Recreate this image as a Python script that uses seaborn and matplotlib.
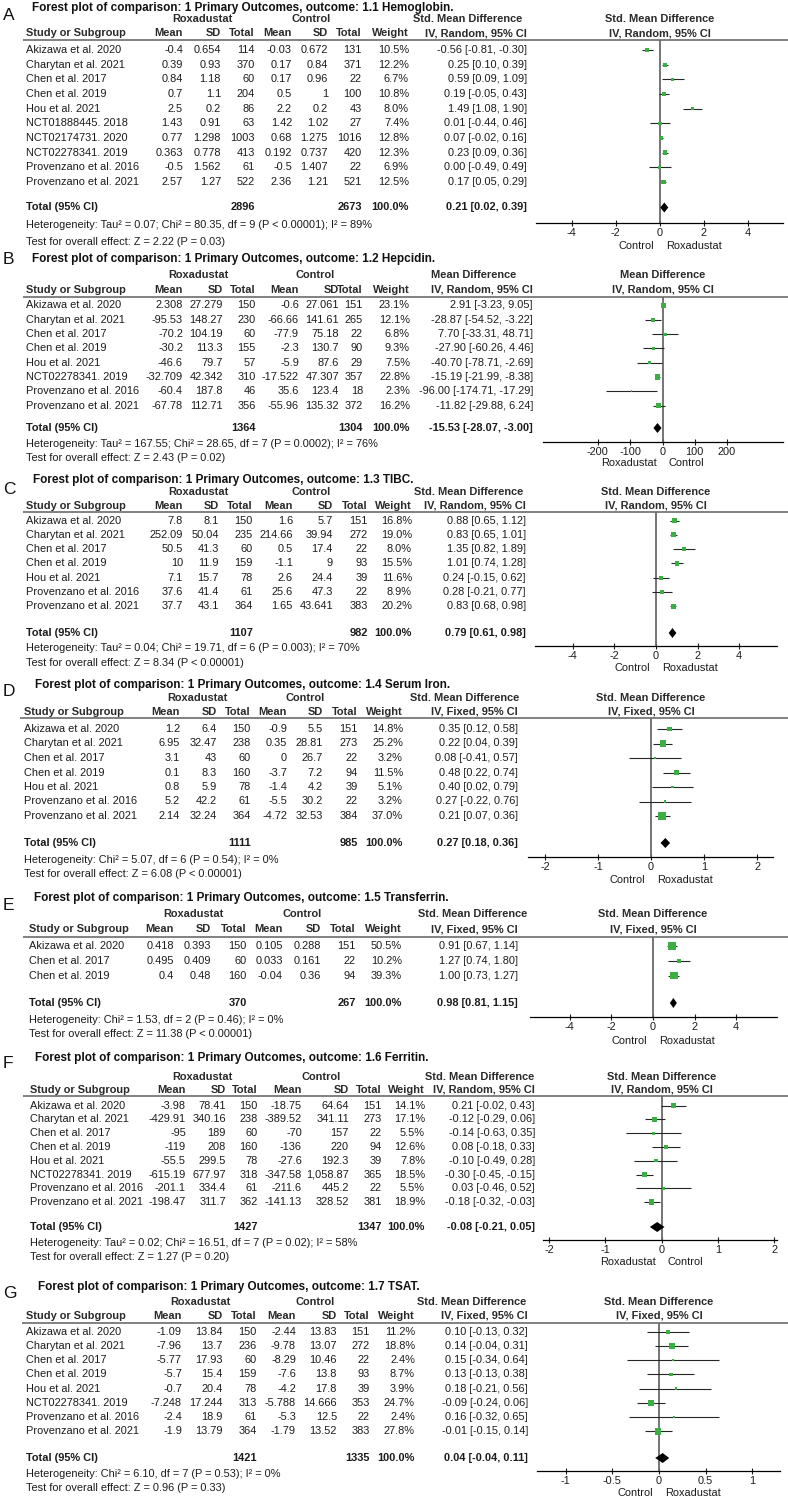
import numpy as np
import matplotlib
matplotlib.use('Agg')
import matplotlib.pyplot as plt
import seaborn as sns

# ---------------- DATA ----------------
# Panel A: Hemoglobin
A_study = ["Akizawa et al. 2020", "Charytan et al. 2021", "Chen et al. 2017", "Chen et al. 2019",
           "Hou et al. 2021", "NCT01888445. 2018", "NCT02174731. 2020", "NCT02278341. 2019",
           "Provenzano et al. 2016", "Provenzano et al. 2021"]
A_rmean = [-0.4, 0.39, 0.84, 0.7, 2.5, 1.43, 0.77, 0.363, -0.5, 2.57]
A_rsd = [0.654, 0.93, 1.18, 1.1, 0.2, 0.91, 1.298, 0.778, 1.562, 1.27]
A_rn = [114, 370, 60, 204, 86, 63, 1003, 413, 61, 522]
A_cmean = [-0.03, 0.17, 0.17, 0.5, 2.2, 1.42, 0.68, 0.192, -0.5, 2.36]
A_csd = [0.672, 0.84, 0.96, 1, 0.2, 1.02, 1.275, 0.737, 1.407, 1.21]
A_cn = [131, 371, 22, 100, 43, 27, 1016, 420, 22, 521]
A_w = [10.5, 12.2, 6.7, 10.8, 8.0, 7.4, 12.8, 12.3, 6.9, 12.5]
A_est = [-0.56, 0.25, 0.59, 0.19, 1.49, 0.01, 0.07, 0.23, 0.00, 0.17]
A_lo = [-0.81, 0.10, 0.09, -0.05, 1.08, -0.44, -0.02, 0.09, -0.49, 0.05]
A_hi = [-0.30, 0.39, 1.09, 0.43, 1.90, 0.46, 0.16, 0.36, 0.49, 0.29]
A_tot = [2896, 2673]
A_pool = [0.21, 0.02, 0.39]
A_het = "Heterogeneity: Tau² = 0.07; Chi² = 80.35, df = 9 (P < 0.00001); I² = 89%"
A_test = "Test for overall effect: Z = 2.22 (P = 0.03)"
A_ticks = [-4, -2, 0, 2, 4]
A_ticklabels = ["-4", "-2", "0", "2", "4"]
A_favours = ["Control", "Roxadustat"]

# Panel B: Hepcidin
B_study = ["Akizawa et al. 2020", "Charytan et al. 2021", "Chen et al. 2017", "Chen et al. 2019",
           "Hou et al. 2021", "NCT02278341. 2019", "Provenzano et al. 2016", "Provenzano et al. 2021"]
B_rmean = [2.308, -95.53, -70.2, -30.2, -46.6, -32.709, -60.4, -67.78]
B_rsd = [27.279, 148.27, 104.19, 113.3, 79.7, 42.342, 187.8, 112.71]
B_rn = [150, 230, 60, 155, 57, 310, 46, 356]
B_cmean = [-0.6, -66.66, -77.9, -2.3, -5.9, -17.522, 35.6, -55.96]
B_csd = [27.061, 141.61, 75.18, 130.7, 87.6, 47.307, 123.4, 135.32]
B_cn = [151, 265, 22, 90, 29, 357, 18, 372]
B_w = [23.1, 12.1, 6.8, 9.3, 7.5, 22.8, 2.3, 16.2]
B_est = [2.91, -28.87, 7.70, -27.90, -40.70, -15.19, -96.00, -11.82]
B_lo = [-3.23, -54.52, -33.31, -60.26, -78.71, -21.99, -174.71, -29.88]
B_hi = [9.05, -3.22, 48.71, 4.46, -2.69, -8.38, -17.29, 6.24]
B_tot = [1364, 1304]
B_pool = [-15.53, -28.07, -3.00]
B_het = "Heterogeneity: Tau² = 167.55; Chi² = 28.65, df = 7 (P = 0.0002); I² = 76%"
B_test = "Test for overall effect: Z = 2.43 (P = 0.02)"
B_ticks = [-200, -100, 0, 100, 200]
B_ticklabels = ["-200", "-100", "0", "100", "200"]
B_favours = ["Roxadustat", "Control"]

# Panel C: TIBC
C_study = ["Akizawa et al. 2020", "Charytan et al. 2021", "Chen et al. 2017", "Chen et al. 2019",
           "Hou et al. 2021", "Provenzano et al. 2016", "Provenzano et al. 2021"]
C_rmean = [7.8, 252.09, 50.5, 10, 7.1, 37.6, 37.7]
C_rsd = [8.1, 50.04, 41.3, 11.9, 15.7, 41.4, 43.1]
C_rn = [150, 235, 60, 159, 78, 61, 364]
C_cmean = [1.6, 214.66, 0.5, -1.1, 2.6, 25.6, 1.65]
C_csd = [5.7, 39.94, 17.4, 9, 24.4, 47.3, 43.641]
C_cn = [151, 272, 22, 93, 39, 22, 383]
C_w = [16.8, 19.0, 8.0, 15.5, 11.6, 8.9, 20.2]
C_est = [0.88, 0.83, 1.35, 1.01, 0.24, 0.28, 0.83]
C_lo = [0.65, 0.65, 0.82, 0.74, -0.15, -0.21, 0.68]
C_hi = [1.12, 1.01, 1.89, 1.28, 0.62, 0.77, 0.98]
C_tot = [1107, 982]
C_pool = [0.79, 0.61, 0.98]
C_het = "Heterogeneity: Tau² = 0.04; Chi² = 19.71, df = 6 (P = 0.003); I² = 70%"
C_test = "Test for overall effect: Z = 8.34 (P < 0.00001)"
C_ticks = [-4, -2, 0, 2, 4]
C_ticklabels = ["-4", "-2", "0", "2", "4"]
C_favours = ["Control", "Roxadustat"]

# Panel D: Serum Iron
D_study = ["Akizawa et al. 2020", "Charytan et al. 2021", "Chen et al. 2017", "Chen et al. 2019",
           "Hou et al. 2021", "Provenzano et al. 2016", "Provenzano et al. 2021"]
D_rmean = [1.2, 6.95, 3.1, 0.1, 0.8, 5.2, 2.14]
D_rsd = [6.4, 32.47, 43, 8.3, 5.9, 42.2, 32.24]
D_rn = [150, 238, 60, 160, 78, 61, 364]
D_cmean = [-0.9, 0.35, 0, -3.7, -1.4, -5.5, -4.72]
D_csd = [5.5, 28.81, 26.7, 7.2, 4.2, 30.2, 32.53]
D_cn = [151, 273, 22, 94, 39, 22, 384]
D_w = [14.8, 25.2, 3.2, 11.5, 5.1, 3.2, 37.0]
D_est = [0.35, 0.22, 0.08, 0.48, 0.40, 0.27, 0.21]
D_lo = [0.12, 0.04, -0.41, 0.22, 0.02, -0.22, 0.07]
D_hi = [0.58, 0.39, 0.57, 0.74, 0.79, 0.76, 0.36]
D_tot = [1111, 985]
D_pool = [0.27, 0.18, 0.36]
D_het = "Heterogeneity: Chi² = 5.07, df = 6 (P = 0.54); I² = 0%"
D_test = "Test for overall effect: Z = 6.08 (P < 0.00001)"
D_ticks = [-2, -1, 0, 1, 2]
D_ticklabels = ["-2", "-1", "0", "1", "2"]
D_favours = ["Control", "Roxadustat"]

# Panel E: Transferrin
E_study = ["Akizawa et al. 2020", "Chen et al. 2017", "Chen et al. 2019"]
E_rmean = [0.418, 0.495, 0.4]
E_rsd = [0.393, 0.409, 0.48]
E_rn = [150, 60, 160]
E_cmean = [0.105, 0.033, -0.04]
E_csd = [0.288, 0.161, 0.36]
E_cn = [151, 22, 94]
E_w = [50.5, 10.2, 39.3]
E_est = [0.91, 1.27, 1.00]
E_lo = [0.67, 0.74, 0.73]
E_hi = [1.14, 1.80, 1.27]
E_tot = [370, 267]
E_pool = [0.98, 0.81, 1.15]
E_het = "Heterogeneity: Chi² = 1.53, df = 2 (P = 0.46); I² = 0%"
E_test = "Test for overall effect: Z = 11.38 (P < 0.00001)"
E_ticks = [-4, -2, 0, 2, 4]
E_ticklabels = ["-4", "-2", "0", "2", "4"]
E_favours = ["Control", "Roxadustat"]

# Panel F: Ferritin
F_study = ["Akizawa et al. 2020", "Charytan et al. 2021", "Chen et al. 2017", "Chen et al. 2019",
           "Hou et al. 2021", "NCT02278341. 2019", "Provenzano et al. 2016", "Provenzano et al. 2021"]
F_rmean = [-3.98, -429.91, -95, -119, -55.5, -615.19, -201.1, -198.47]
F_rsd = [78.41, 340.16, 189, 208, 299.5, 677.97, 334.4, 311.7]
F_rn = [150, 238, 60, 160, 78, 318, 61, 362]
F_cmean = [-18.75, -389.52, -70, -136, -27.6, -347.58, -211.6, -141.13]
F_csd = [64.64, 341.11, 157, 220, 192.3, 1058.87, 445.2, 328.52]
F_cn = [151, 273, 22, 94, 39, 365, 22, 381]
F_w = [14.1, 17.1, 5.5, 12.6, 7.8, 18.5, 5.5, 18.9]
F_est = [0.21, -0.12, -0.14, 0.08, -0.10, -0.30, 0.03, -0.18]
F_lo = [-0.02, -0.29, -0.63, -0.18, -0.49, -0.45, -0.46, -0.32]
F_hi = [0.43, 0.06, 0.35, 0.33, 0.28, -0.15, 0.52, -0.03]
F_tot = [1427, 1347]
F_pool = [-0.08, -0.21, 0.05]
F_het = "Heterogeneity: Tau² = 0.02; Chi² = 16.51, df = 7 (P = 0.02); I² = 58%"
F_test = "Test for overall effect: Z = 1.27 (P = 0.20)"
F_ticks = [-2, -1, 0, 1, 2]
F_ticklabels = ["-2", "-1", "0", "1", "2"]
F_favours = ["Roxadustat", "Control"]

# Panel G: TSAT
G_study = ["Akizawa et al. 2020", "Charytan et al. 2021", "Chen et al. 2017", "Chen et al. 2019",
           "Hou et al. 2021", "NCT02278341. 2019", "Provenzano et al. 2016", "Provenzano et al. 2021"]
G_rmean = [-1.09, -7.96, -5.77, -5.7, -0.7, -7.248, -2.4, -1.9]
G_rsd = [13.84, 13.7, 17.93, 15.4, 20.4, 17.244, 18.9, 13.79]
G_rn = [150, 236, 60, 159, 78, 313, 61, 364]
G_cmean = [-2.44, -9.78, -8.29, -7.6, -4.2, -5.788, -5.3, -1.79]
G_csd = [13.83, 13.07, 10.46, 13.8, 17.8, 14.666, 12.5, 13.52]
G_cn = [151, 272, 22, 93, 39, 353, 22, 383]
G_w = [11.2, 18.8, 2.4, 8.7, 3.9, 24.7, 2.4, 27.8]
G_est = [0.10, 0.14, 0.15, 0.13, 0.18, -0.09, 0.16, -0.01]
G_lo = [-0.13, -0.04, -0.34, -0.13, -0.21, -0.24, -0.32, -0.15]
G_hi = [0.32, 0.31, 0.64, 0.38, 0.56, 0.06, 0.65, 0.14]
G_tot = [1421, 1335]
G_pool = [0.04, -0.04, 0.11]
G_het = "Heterogeneity: Chi² = 6.10, df = 7 (P = 0.53); I² = 0%"
G_test = "Test for overall effect: Z = 0.96 (P = 0.33)"
G_ticks = [-1, -0.5, 0, 0.5, 1]
G_ticklabels = ["-1", "-0.5", "0", "0.5", "1"]
G_favours = ["Control", "Roxadustat"]

outcomes = ["1.1 Hemoglobin.", "1.2 Hepcidin.", "1.3 TIBC.", "1.4 Serum Iron.",
            "1.5 Transferrin.", "1.6 Ferritin.", "1.7 TSAT."]
effects = ["Std. Mean Difference", "Mean Difference", "Std. Mean Difference", "Std. Mean Difference",
           "Std. Mean Difference", "Std. Mean Difference", "Std. Mean Difference"]
methods = ["IV, Random, 95% CI", "IV, Random, 95% CI", "IV, Random, 95% CI", "IV, Fixed, 95% CI",
           "IV, Fixed, 95% CI", "IV, Random, 95% CI", "IV, Fixed, 95% CI"]

# ---------------- LAYOUT (pixels) ----------------
layouts = {
    'A': dict(letter_y=15, title_x=32, title_y=8, group_y=19, col_y=33, line_y=40, line_x0=23,
              row0=50, dy=14.65, total_y=207.5, het_y=225, test_y=242, axis_y=223,
              ticklab_y=233, dirlab_y=246, cols=[26, 183, 221, 255, 292, 328, 362, 409, 527],
              rox_c=202, ctl_c=311, eff_c=468, axis_px=(536, 783), xlim=(-5.62, 5.6)),
    'B': dict(letter_y=260, title_x=32, title_y=259, group_y=275, col_y=290, line_y=297, line_x0=23,
              row0=305.5, dy=14.3, total_y=428, het_y=444, test_y=458, axis_y=442,
              ticklab_y=452, dirlab_y=463, cols=[26, 183, 223, 256, 299, 339, 363, 410, 533],
              rox_c=198, ctl_c=315, eff_c=474, axis_px=(543, 783), xlim=(-370, 373)),
    'C': dict(letter_y=490, title_x=33, title_y=480, group_y=492, col_y=506, line_y=512, line_x0=23,
              row0=520.5, dy=14.3, total_y=633, het_y=648, test_y=663, axis_y=646,
              ticklab_y=656, dirlab_y=668, cols=[26, 183, 219, 253, 293, 333, 368, 412, 526],
              rox_c=198, ctl_c=311, eff_c=469, axis_px=(535, 777), xlim=(-5.82, 5.82)),
    'D': dict(letter_y=692, title_x=35, title_y=685, group_y=698, col_y=712, line_y=718, line_x0=20,
              row0=729, dy=14.5, total_y=843, het_y=860, test_y=874, axis_y=857,
              ticklab_y=867, dirlab_y=880, cols=[24, 180, 217, 251, 287, 323, 358, 403, 518],
              rox_c=197, ctl_c=305, eff_c=465, axis_px=(528, 773), xlim=(-2.32, 2.30)),
    'E': dict(letter_y=905, title_x=34, title_y=898, group_y=914, col_y=929, line_y=937, line_x0=23,
              row0=946, dy=14.8, total_y=1003, het_y=1020, test_y=1034, axis_y=1017,
              ticklab_y=1028, dirlab_y=1041, cols=[29, 174, 211, 247, 283, 321, 356, 402, 518],
              rox_c=193, ctl_c=302, eff_c=473, axis_px=(530, 777), xlim=(-5.91, 5.96)),
    'F': dict(letter_y=1063, title_x=35, title_y=1058, group_y=1077, col_y=1090, line_y=1096, line_x0=23,
              row0=1105.7, dy=13.76, total_y=1227, het_y=1243, test_y=1257, axis_y=1240,
              ticklab_y=1250, dirlab_y=1262, cols=[30, 186, 226, 258, 302, 349, 382, 425, 535],
              rox_c=202, ctl_c=321, eff_c=480, axis_px=(543, 777), xlim=(-2.11, 2.05)),
    'G': dict(letter_y=1293, title_x=38, title_y=1287, group_y=1302, col_y=1316, line_y=1323, line_x0=22,
              row0=1331.7, dy=14.24, total_y=1458, het_y=1474, test_y=1488, axis_y=1471,
              ticklab_y=1482, dirlab_y=1493, cols=[26, 182, 223, 257, 296, 337, 370, 415, 528],
              rox_c=200, ctl_c=315, eff_c=472, axis_px=(537, 780), xlim=(-1.31, 1.30)),
}

panels = []
for i, k in enumerate("ABCDEFG"):
    g = globals()
    panels.append(dict(key=k, study=g[k + '_study'], rmean=g[k + '_rmean'], rsd=g[k + '_rsd'],
                       rn=g[k + '_rn'], cmean=g[k + '_cmean'], csd=g[k + '_csd'], cn=g[k + '_cn'],
                       w=g[k + '_w'], est=g[k + '_est'], lo=g[k + '_lo'], hi=g[k + '_hi'],
                       tot=g[k + '_tot'], pool=g[k + '_pool'], het=g[k + '_het'], test=g[k + '_test'],
                       ticks=g[k + '_ticks'], ticklabels=g[k + '_ticklabels'], fav=g[k + '_favours'],
                       outcome=outcomes[i], effect=effects[i], method=methods[i]))

# ---------------- DRAW ----------------
sns.set_style('white')
plt.rcParams['font.family'] = ['Liberation Sans', 'DejaVu Sans']

W, H = 788, 1500
fig = plt.figure(figsize=(W / 100, H / 100), dpi=100)
tx = fig.add_axes([0, 0, 1, 1])
tx.set_xlim(0, W)
tx.set_ylim(H, 0)
tx.axis('off')

BODY = 7.9
TXT = '#1c1c1c'
HDR = '#2a2a2a'
GREEN = '#3cae46'


def put(x, y, s, ha='left', bold=False, size=BODY, color=TXT):
    tx.text(x, y, s, ha=ha, va='center', fontsize=size,
            fontweight='bold' if bold else 'normal', color=color)


def fmt(v):
    return '{:,g}'.format(v)


for p in panels:
    L = layouts[p['key']]
    c = L['cols']
    x0px, x1px = L['axis_px']
    xl = L['xlim']
    zero_px = x0px + (0 - xl[0]) / (xl[1] - xl[0]) * (x1px - x0px)

    # labels and headers
    put(3, L['letter_y'], p['key'], size=12.5, color='#111')
    put(L['title_x'], L['title_y'],
        "Forest plot of comparison: 1 Primary Outcomes, outcome: " + p['outcome'],
        bold=True, size=8.5, color='#111')
    put(L['rox_c'], L['group_y'], "Roxadustat", ha='center', bold=True, color=HDR)
    put(L['ctl_c'], L['group_y'], "Control", ha='center', bold=True, color=HDR)
    put(L['eff_c'], L['group_y'], p['effect'], ha='center', bold=True, color=HDR)
    put(zero_px, L['group_y'], p['effect'], ha='center', bold=True, color=HDR)
    put(zero_px, L['col_y'], p['method'], ha='center', bold=True, color=HDR)
    put(c[0], L['col_y'], "Study or Subgroup", bold=True, color=HDR)
    for xx, lab in zip(c[1:8], ["Mean", "SD", "Total", "Mean", "SD", "Total", "Weight"]):
        put(xx, L['col_y'], lab, ha='right', bold=True, color=HDR)
    put(c[8], L['col_y'], p['method'], ha='right', bold=True, color=HDR)
    tx.plot([L['line_x0'], W], [L['line_y'], L['line_y']], color='#777777', lw=1.3,
            solid_capstyle='butt')

    # study rows
    ys = [L['row0'] + j * L['dy'] for j in range(len(p['study']))]
    for j, y in enumerate(ys):
        put(c[0], y, p['study'][j])
        put(c[1], y, fmt(p['rmean'][j]), ha='right')
        put(c[2], y, fmt(p['rsd'][j]), ha='right')
        put(c[3], y, str(p['rn'][j]), ha='right')
        put(c[4], y, fmt(p['cmean'][j]), ha='right')
        put(c[5], y, fmt(p['csd'][j]), ha='right')
        put(c[6], y, str(p['cn'][j]), ha='right')
        put(c[7], y, '%.1f%%' % p['w'][j], ha='right')
        put(c[8], y, '%.2f [%.2f, %.2f]' % (p['est'][j], p['lo'][j], p['hi'][j]), ha='right')

    # total rows
    ty = L['total_y']
    put(c[0], ty, "Total (95% CI)", bold=True)
    put(c[3], ty, str(p['tot'][0]), ha='right', bold=True)
    put(c[6], ty, str(p['tot'][1]), ha='right', bold=True)
    put(c[7], ty, "100.0%", ha='right', bold=True)
    put(c[8], ty, '%.2f [%.2f, %.2f]' % tuple(p['pool']), ha='right', bold=True)
    put(c[0], L['het_y'], p['het'])
    put(c[0], L['test_y'], p['test'])

    # forest axes
    ax = fig.add_axes([x0px / W, 1 - L['axis_y'] / H, (x1px - x0px) / W,
                       (L['axis_y'] - L['line_y']) / H])
    ax.patch.set_alpha(0)
    ax.set_xlim(*xl)
    ax.set_ylim(L['axis_y'], L['line_y'])
    ax.axvline(0, color='#6a6a6a', lw=1.3, zorder=1)
    ax.hlines(ys, p['lo'], p['hi'], color='#262626', lw=0.8, zorder=2)
    sns.scatterplot(x=p['est'], y=ys, size=p['w'], sizes=(0, 76), size_norm=(0, 100),
                    marker='s', color=GREEN, linewidth=0, legend=False, ax=ax, zorder=3)
    pe, pl, ph = p['pool']
    ax.fill([pl, pe, ph, pe], [ty, ty - 5, ty, ty + 5], color='black', lw=0, zorder=4)
    for s in ['top', 'left', 'right']:
        ax.spines[s].set_visible(False)
    ax.spines['bottom'].set_color('black')
    ax.spines['bottom'].set_linewidth(0.9)
    ax.set_yticks([])
    ax.set_xticks(p['ticks'])
    ax.set_xticklabels(p['ticklabels'])
    ax.tick_params(axis='x', direction='inout', length=5, width=0.8, pad=1.2,
                   labelsize=BODY, colors=TXT, bottom=True)
    ax.set_xlabel('')
    ax.set_ylabel('')

    put(zero_px - 6, L['dirlab_y'], p['fav'][0], ha='right')
    put(zero_px + 6, L['dirlab_y'], p['fav'][1], ha='left')

fig.savefig('out.png', dpi=100, facecolor='white')
